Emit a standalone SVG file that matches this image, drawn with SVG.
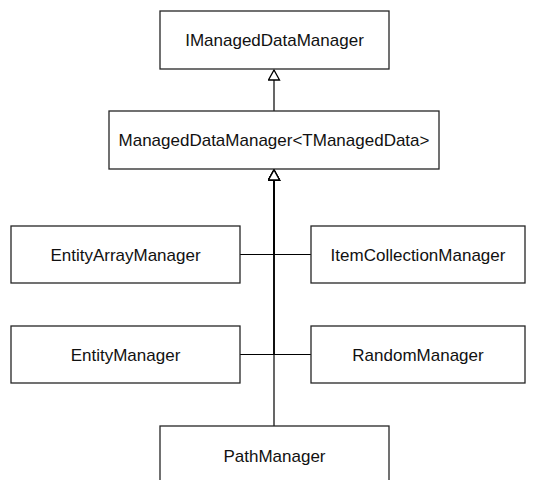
<svg xmlns="http://www.w3.org/2000/svg" width="534" height="480" viewBox="0 0 534 480">
  <style>
    .box { fill: #ffffff; stroke: #262626; stroke-width: 1.3; }
    .lbl { font-family: "Liberation Sans", Arial, sans-serif; font-size: 17px; fill: #111111; text-anchor: middle; }
    .conn { fill: none; stroke: #000000; stroke-width: 1.2; }
  </style>
  <defs>
    <marker id="gen" markerUnits="userSpaceOnUse" markerWidth="12" markerHeight="13" viewBox="-1 -1 12 13" refX="10" refY="5.5" orient="auto">
      <path d="M0,0 L10,5.5 L0,11 Z" fill="#ffffff" stroke="#000000" stroke-width="1.3"/>
    </marker>
  </defs>
  <rect width="534" height="480" fill="#ffffff"/>
  <g id="connectors">
    <path class="conn" d="M274,111 V70" marker-end="url(#gen)"/>
    <path class="conn" d="M240,254.5 H274 V170" marker-end="url(#gen)"/>
    <path class="conn" d="M311,254.5 H274 V170" marker-end="url(#gen)"/>
    <path class="conn" d="M240,354.5 H274 V170" marker-end="url(#gen)"/>
    <path class="conn" d="M311,354.5 H274 V170" marker-end="url(#gen)"/>
    <path class="conn" d="M274,426 V170" marker-end="url(#gen)"/>
  </g>
  <g id="IManagedDataManager">
    <rect class="box" x="160" y="11" width="229" height="58"/>
    <text class="lbl" x="274.5" y="46">IManagedDataManager</text>
  </g>
  <g id="ManagedDataManager">
    <rect class="box" x="109" y="111" width="330" height="58"/>
    <text class="lbl" x="274" y="146">ManagedDataManager&lt;TManagedData&gt;</text>
  </g>
  <g id="EntityArrayManager">
    <rect class="box" x="11" y="226" width="229" height="57"/>
    <text class="lbl" x="125.5" y="260.5">EntityArrayManager</text>
  </g>
  <g id="ItemCollectionManager">
    <rect class="box" x="311" y="226" width="214" height="57"/>
    <text class="lbl" x="418" y="260.5">ItemCollectionManager</text>
  </g>
  <g id="EntityManager">
    <rect class="box" x="11" y="326" width="229" height="57"/>
    <text class="lbl" x="125.5" y="360.5">EntityManager</text>
  </g>
  <g id="RandomManager">
    <rect class="box" x="311" y="326" width="214" height="57"/>
    <text class="lbl" x="418" y="360.5">RandomManager</text>
  </g>
  <g id="PathManager">
    <rect class="box" x="160" y="426" width="229" height="72"/>
    <text class="lbl" x="274.5" y="462">PathManager</text>
  </g>
</svg>
